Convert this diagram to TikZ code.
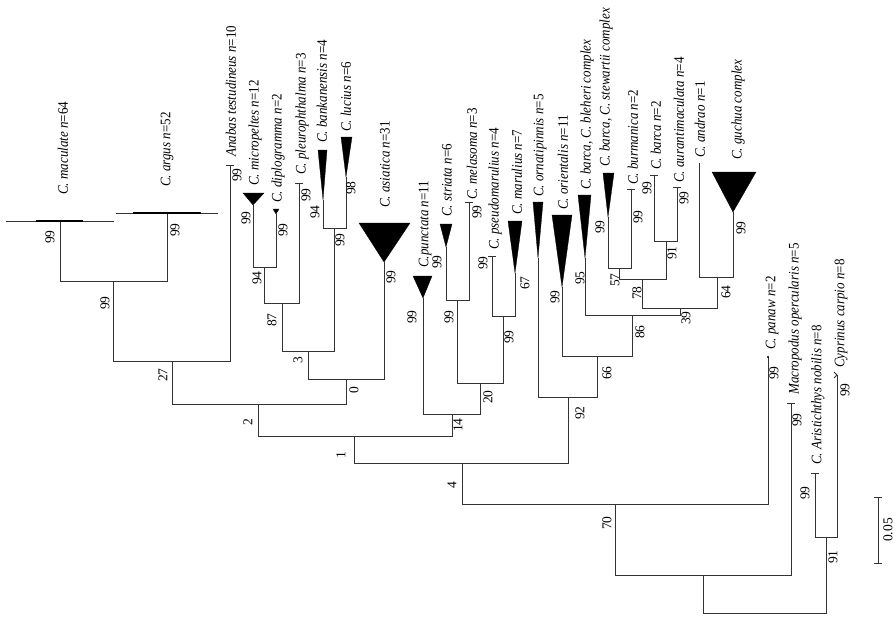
\documentclass[tikz,border=0pt]{standalone}
\usepackage{fontspec}
\usepackage{graphicx}
\setmainfont{Liberation Serif}
\newcommand{\splab}[1]{\scalebox{1}[1.12]{#1}}
\begin{document}
\begin{tikzpicture}[x=1pt,y=-1pt,
  edge/.style={draw=black!80, line width=0.8pt},
  clade/.style={fill=black, draw=black, line width=0.3pt},
  bs/.style={rotate=90, font=\fontsize{13.5}{13.5}\selectfont, inner sep=0pt},
  sp/.style={rotate=90, anchor=west, font=\fontsize{13}{13}\selectfont, inner sep=0pt},
  tick/.style={draw=black!80, line width=0.8pt}]
\useasboundingbox[fill=white] (0,0) rectangle (896,616);

% ---------- internal nodes ----------
\coordinate (root) at (703,613);
\coordinate (nA)   at (703,575);
\coordinate (n70)  at (615,504);
\coordinate (n91)  at (826,537);
\coordinate (n4)   at (462,463);
\coordinate (n1)   at (354,436);
\coordinate (n2)   at (258,404);
\coordinate (n27)  at (172,361);
\coordinate (n99a) at (113,281);
\coordinate (n0)   at (346,379);
\coordinate (n3)   at (308,351);
\coordinate (n87)  at (282,303);
\coordinate (n94)  at (264,267);
\coordinate (n99b) at (334,228);
\coordinate (n14)  at (452,414);
\coordinate (n20)  at (480,383);
\coordinate (n99c) at (457,300);
\coordinate (n99d) at (503,316);
\coordinate (n92)  at (568,397);
\coordinate (n66)  at (597,356);
\coordinate (n86)  at (632,315);
\coordinate (n39)  at (680,308);
\coordinate (n78)  at (642,279);
\coordinate (n57)  at (619,268);
\coordinate (n91b) at (666,241);
\coordinate (n64)  at (717,277);

% ---------- tips ----------
\coordinate (macul)  at (60,221);
\coordinate (argus)  at (167,213);
\coordinate (anabas) at (230,165);
\coordinate (micro)  at (253,205);
\coordinate (diplo)  at (276,214);
\coordinate (pleuro) at (299,183);
\coordinate (bank)   at (323,200);
\coordinate (luci)   at (346,177);
\coordinate (asia)   at (384,262);
\coordinate (punc)   at (423,298);
\coordinate (stri)   at (446,247);
\coordinate (mela)   at (469,202);
\coordinate (pseu)   at (492,256);
\coordinate (maru)   at (515,273);
\coordinate (orna)   at (538,258);
\coordinate (orie)   at (562,287);
\coordinate (bleh)   at (585,258);
\coordinate (stew)   at (608,217);
\coordinate (burm)   at (631,189);
\coordinate (barc)   at (654,175);
\coordinate (aura)   at (677,187);
\coordinate (andr)   at (699,163);
\coordinate (guch)   at (733,212);
\coordinate (panaw)  at (768,357);
\coordinate (mac)    at (791,403);
\coordinate (arist)  at (815,473);
\coordinate (cypr)   at (837,375);

% ---------- branches ----------
\foreach \c/\p in {nA/root,n91/root,n70/nA,mac/nA,n4/n70,panaw/n70,arist/n91,cypr/n91,
  n1/n4,n92/n4,n2/n1,n14/n1,n27/n2,n0/n2,n99a/n27,anabas/n27,macul/n99a,argus/n99a,
  n3/n0,asia/n0,n87/n3,n99b/n3,n94/n87,pleuro/n87,micro/n94,diplo/n94,bank/n99b,luci/n99b,
  punc/n14,n20/n14,n99c/n20,n99d/n20,stri/n99c,mela/n99c,pseu/n99d,maru/n99d,
  orna/n92,n66/n92,orie/n66,n86/n66,bleh/n86,n39/n86,n78/n39,n64/n39,
  n57/n78,n91b/n78,stew/n57,burm/n57,barc/n91b,aura/n91b,andr/n64,guch/n64}
  {\draw[edge] (\c) |- (\p);}

% ---------- collapsed clades ----------
\draw[edge] (6,221) -- (114,221);
\draw[line width=2.4pt] (36,221) -- (83,221);
\draw[edge] (116,213) -- (218,213);
\draw[line width=2.4pt] (133,213) -- (201,213);
\fill[clade] (243,193) -- (264,193) -- (micro) -- cycle;
\fill[clade] (273,209) -- (279,209) -- (diplo) -- cycle;
\fill[clade] (318,150) -- (327,150) -- (bank) -- cycle;
\fill[clade] (341,137) -- (352,137) -- (luci) -- cycle;
\fill[clade] (359,223) -- (410,223) -- (asia) -- cycle;
\fill[clade] (413,276) -- (432,276) -- (punc) -- cycle;
\fill[clade] (440,224) -- (452,224) -- (stri) -- cycle;
\fill[clade] (508,221) -- (522,221) -- (maru) -- cycle;
\fill[clade] (533,202) -- (543,202) -- (orna) -- cycle;
\fill[clade] (552,215) -- (572,215) -- (orie) -- cycle;
\fill[clade] (578,195) -- (591,195) -- (bleh) -- cycle;
\fill[clade] (603,173) -- (614,173) -- (stew) -- cycle;
\fill[clade] (712,172) -- (756,172) -- (guch) -- cycle;

% ---------- tip ticks ----------
\foreach \t in {anabas,pleuro,mela,pseu,burm,barc,aura,mac,arist}
  {\draw[tick] (\t) ++(-4,0) -- ++(8,0);}
\fill (panaw) circle (1.2pt);
\draw[tick] (cypr) ++(-3,-3) -- ++(3,3) -- ++(-3,3);

% ---------- species labels ----------
\node[sp] (l1)  at (63,195)  {\splab{\textit{C. maculate n}=64}};
\node[sp] (l2)  at (167,187) {\splab{\textit{C. argus n}=52}};
\node[sp] (l3)  at (231,157) {\splab{\textit{Anabas testudineus n}=10}};
\node[sp] (l4)  at (255,186) {\splab{\textit{C. micropeltes n}=12}};
\node[sp] (l5)  at (278,203) {\splab{\textit{C. diplogramma n}=2}};
\node[sp] (l6)  at (302,175) {\splab{\textit{C. pleurophthalma n}=3}};
\node[sp] (l7)  at (322,143) {\splab{\textit{C. bankanensis n}=4}};
\node[sp] (l8)  at (346,132) {\splab{\textit{C. lucius n}=6}};
\node[sp] (l9)  at (385,208) {\splab{\textit{C. asiatica n}=31}};
\node[sp] (l10) at (425,268) {\splab{\textit{C.punctata n}=11}};
\node[sp] (l11) at (447,217) {\splab{\textit{C. striata n}=6}};
\node[sp] (l12) at (472,200) {\splab{\textit{C. melasoma n}=3}};
\node[sp] (l13) at (495,250) {\splab{\textit{C. pseudomarulius n}=4}};
\node[sp] (l14) at (517,215) {\splab{\textit{C. marulius n}=7}};
\node[sp] (l15) at (540,197) {\splab{\textit{C. ornatipinnis n}=5}};
\node[sp] (l16) at (563,210) {\splab{\textit{C. orientalis n}=11}};
\node[sp] (l17) at (587,190) {\splab{\textit{C. barca, C. bleheri complex}}};
\node[sp] (l18) at (606,167) {\splab{\textit{C. barca, C. stewartii complex}}};
\node[sp] (l19) at (633,185) {\splab{\textit{C. burmanica n}=2}};
\node[sp] (l20) at (656,170) {\splab{\textit{C. barca n}=2}};
\node[sp] (l21) at (679,183) {\splab{\textit{C. aurantimaculata n}=4}};
\node[sp] (l22) at (700,158) {\splab{\textit{C. andrao n}=1}};
\node[sp] (l23) at (738,160) {\splab{\textit{C. guchua complex}}};
\node[sp] (l24) at (772,350) {\splab{\textit{C. panaw n}=2}};
\node[sp] (l25) at (795,395) {\splab{\textit{Macropodus opercularis n}=5}};
\node[sp] (l26) at (818,465) {\splab{\textit{C. Aristichthys nobilis n}=8}};
\node[sp] (l27) at (841,368) {\splab{\textit{Cyprinus carpio n}=8}};

% ---------- bootstrap values ----------
\foreach \x/\y/\v [count=\i] in {
  50/237/99, 175/230/99, 105/303/99, 163/375/27, 248/422/2, 237/175/99,
  246/218/99, 283/230/99, 257/278/94, 272/320/87, 298/360/3, 354/390/0,
  306/195/99, 315/212/94, 351/188/98, 340/240/99, 391/277/99, 412/317/99,
  437/262/99, 458/425/14, 341/455/1, 452/485/4, 488/397/20, 449/317/99,
  477/212/99, 483/263/99, 525/283/67, 509/337/99, 580/413/92, 607/373/66,
  555/297/99, 640/332/86, 580/278/95, 686/318/39, 637/293/78, 615/280/57,
  600/227/99, 638/217/99, 672/253/91, 647/188/99, 684/198/99, 726/292/64,
  741/228/99, 774/373/99, 607/523/70, 797/420/99, 833/557/91, 805/493/99,
  845/390/99}
  {\node[bs] (b\i) at (\x,\y) {\v};}

% ---------- scale bar ----------
\coordinate (sb1) at (878,497);
\coordinate (sb2) at (878,563);
\draw[edge] (sb1) -- (sb2);
\draw[tick] (sb1) ++(-4,0) -- ++(8,0);
\draw[tick] (sb2) ++(-4,0) -- ++(8,0);
\node[bs] (sbl) at (888,530) {0.05};
\end{tikzpicture}
\end{document}
